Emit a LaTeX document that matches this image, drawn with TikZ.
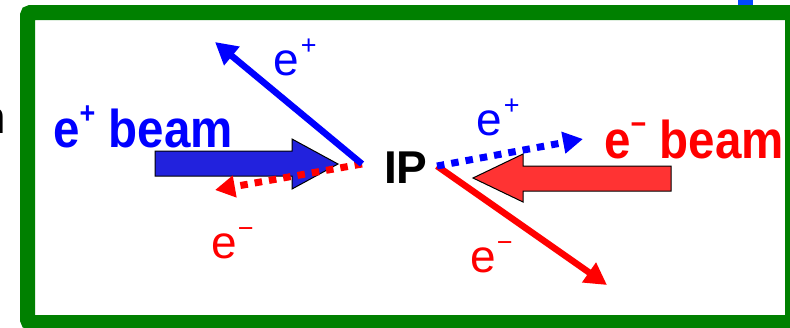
\documentclass[tikz,border=0pt]{standalone}
\usepackage{fontspec}
\setmainfont{Liberation Sans}
\usepackage{graphicx}
\usetikzlibrary{arrows.meta, calc}
\definecolor{frame-green}{RGB}{0,128,0}
\definecolor{pos-blue}{RGB}{0,0,255}
\definecolor{neg-red}{RGB}{255,0,0}
\definecolor{beam-blue}{RGB}{34,34,221}
\definecolor{beam-red}{RGB}{255,51,51}
\definecolor{frag-blue}{RGB}{0,72,255}
\newcommand{\chg}[1]{\raisebox{21pt}{\fontsize{27}{27}\selectfont #1}}
\newcommand{\tall}[1]{\scalebox{1}[1.12]{#1}}
\tikzset{
    lbl/.style={inner sep=0pt, anchor=base west, font=\fontsize{46}{46}\selectfont},
    beamlbl/.style={lbl, font=\fontsize{47.5}{47.5}\selectfont\bfseries},
    beamarrow/.style={draw=black, line width=1pt, line join=miter},
    track/.style={line width=6.5pt, -{Triangle[length=22pt, width=23pt]}},
    dottrack/.style={line width=7pt, dash pattern=on 7.5pt off 7pt, -{Triangle[length=20pt, width=21pt]}}
}

\begin{document}
\begin{tikzpicture}[x=1pt, y=-1pt]
    \useasboundingbox (0,0) rectangle (790,327);

    % Cut-off pieces at the image border
    \node[lbl, anchor=base east, text=black] (frag) at (6,133) {n};
    \fill[frag-blue] (738,0) rectangle (753,5);

    % Frame
    \draw[frame-green, line width=15pt, rounded corners=3pt] (27.5,12.5) rectangle (792.5,322.5);

    % Labels
    \node[beamlbl, text=pos-blue] (posbeam) at (53,147) {\tall{e\chg{+} beam}};
    \node[beamlbl, text=neg-red] (negbeam) at (604,158) {\tall{e\chg{−} beam}};
    \node[beamlbl, font=\fontsize{46}{46}\selectfont\bfseries, text=black] (ip) at (384,183) {IP};
    \node[lbl, text=pos-blue] (posup) at (273,75) {e\kern2pt\chg{+}};
    \node[lbl, text=neg-red] (negdown) at (211,258) {e\kern1pt\chg{−}};
    \node[lbl, text=pos-blue] (posright) at (476,135) {e\kern2pt\chg{+}};
    \node[lbl, text=neg-red] (neglow) at (470,272) {e\kern1pt\chg{−}};

    % Incoming beams
    \draw[beamarrow, fill=beam-blue] (155,151) -- (292,151) -- (292,139) -- (338,164) -- (292,189) -- (292,176) -- (155,176) -- cycle;
    \draw[beamarrow, fill=beam-red] (671,166) -- (523,166) -- (523,154) -- (473,178) -- (523,202) -- (523,191) -- (671,191) -- cycle;

    % Outgoing particles
    \coordinate (ipL) at (362,164);
    \coordinate (ipR) at (437,166);
    \coordinate (endPosUp) at (215,42);
    \coordinate (endNegL) at (215,190);
    \coordinate (endPosR) at (583,139);
    \coordinate (endNegLow) at (607,285);
    \draw[dottrack, neg-red] (ipL) -- (endNegL);
    \draw[track, pos-blue] (ipL) -- (endPosUp);
    \draw[track, neg-red] (ipR) -- (endNegLow);
    \draw[dottrack, pos-blue] (ipR) -- (endPosR);
\end{tikzpicture}
\end{document}
